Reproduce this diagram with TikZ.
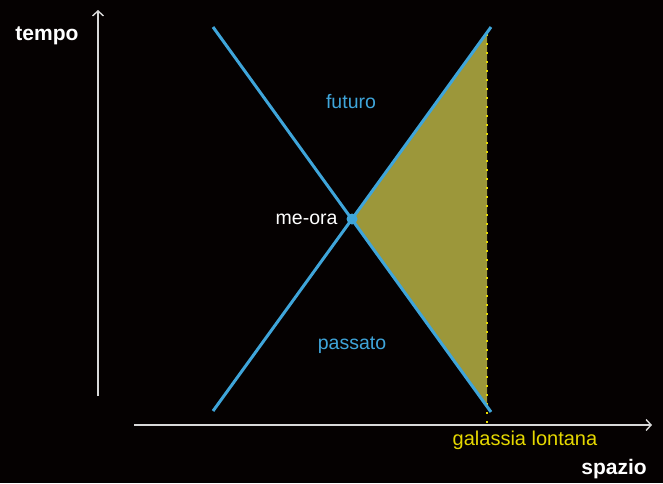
\documentclass[tikz,border=0pt]{standalone}
\usepackage{fontspec}
\setmainfont{Liberation Sans}
\usetikzlibrary{arrows.meta}
\definecolor{bg}{HTML}{050101}
\definecolor{lineblue}{HTML}{3FA5DA}
\definecolor{olive}{HTML}{9C973A}
\definecolor{galyellow}{HTML}{E6D800}
\definecolor{axisgrey}{HTML}{D8D8D8}
\begin{document}
\begin{tikzpicture}[x=1pt,y=-1pt,
  axis/.style={draw=axisgrey,line width=1.6pt,-{Straight Barb[length=5pt,width=11pt,line width=1.4pt]}},
  cone/.style={draw=lineblue,line width=3pt},
  bluelabel/.style={text=lineblue,font=\fontsize{19.5}{22}\selectfont},
  whitelabel/.style={text=white,font=\fontsize{19.5}{22}\selectfont},
  boldlabel/.style={text=white,font=\fontsize{21}{24}\selectfont\bfseries}]
\fill[bg] (0,0) rectangle (663,483);
\useasboundingbox (0,0) rectangle (663,483);
% coordinates
\coordinate (c) at (352,219);
\coordinate (ul) at (213,27);
\coordinate (ur) at (491,27);
\coordinate (ll) at (213,411);
\coordinate (lr) at (491,412);
\coordinate (ft) at (487,33);
\coordinate (fb) at (487,406);
\coordinate (dt) at (487,34);
\coordinate (db) at (487,424);
% filled region
\fill[olive] (c) -- (ft) -- (fb) -- cycle;
\draw[galyellow,line width=1.5pt,dash pattern=on 1.5pt off 7.5pt] (dt) -- (db);
% axes
\coordinate (vb) at (98,396);
\coordinate (vt) at (98,10);
\coordinate (hl) at (134,425);
\coordinate (hr) at (652,425);
\draw[axis] (vb) -- (vt);
\draw[axis] (hl) -- (hr);
% cone lines
\draw[cone] (ul) -- (lr);
\draw[cone] (ll) -- (ur);
\fill[lineblue] (c) circle (5.5pt);
% labels
\node[boldlabel] (tempo) at (47,36) {tempo};
\node[boldlabel] (spazio) at (614,469) {spazio};
\node[bluelabel] (futuro) at (351,102) {futuro};
\node[bluelabel] (passato) at (352,345) {passato};
\node[whitelabel,anchor=east] (meora) at (341,219) {me-ora};
\node[text=galyellow,font=\fontsize{20}{22}\selectfont] (gal) at (525,440) {galassia lontana};
\end{tikzpicture}
\end{document}
